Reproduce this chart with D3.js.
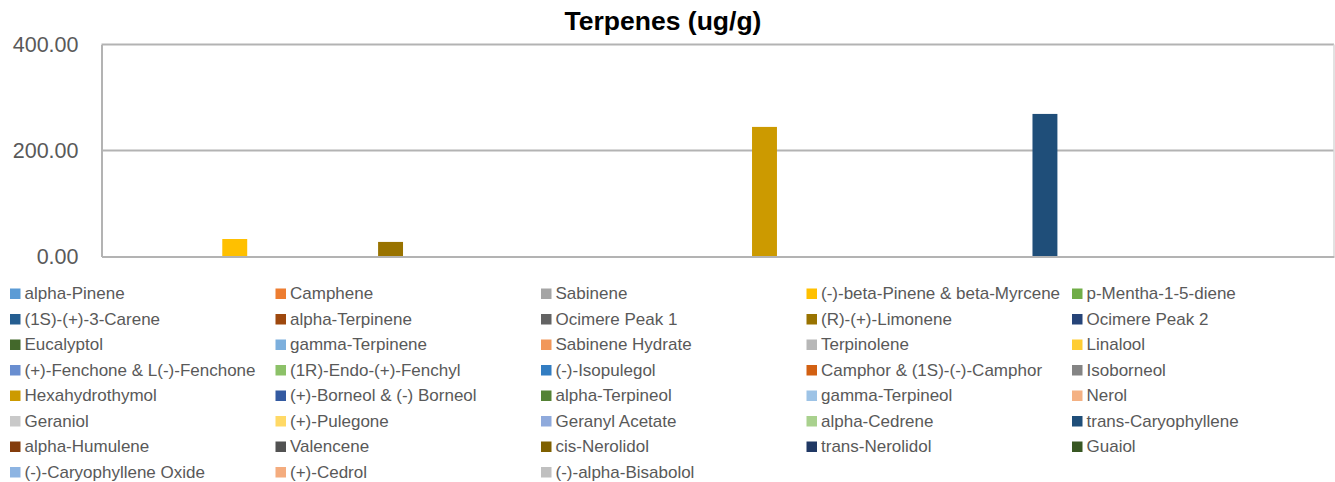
<!DOCTYPE html>
<html>
<head>
<meta charset="utf-8">
<script src="https://cdn.jsdelivr.net/npm/d3@7"></script>
<style>
  html, body { margin: 0; padding: 0; background: #ffffff; }
  svg { display: block; }
</style>
</head>
<body>
<svg id="chart" width="1335" height="482"></svg>
<script>
const title = "Terpenes (ug/g)";
const categories = ["Sample"];
const seriesNames = [
  "alpha-Pinene", "Camphene", "Sabinene", "(-)-beta-Pinene & beta-Myrcene", "p-Mentha-1-5-diene",
  "(1S)-(+)-3-Carene", "alpha-Terpinene", "Ocimere Peak 1", "(R)-(+)-Limonene", "Ocimere Peak 2",
  "Eucalyptol", "gamma-Terpinene", "Sabinene Hydrate", "Terpinolene", "Linalool",
  "(+)-Fenchone & L(-)-Fenchone", "(1R)-Endo-(+)-Fenchyl", "(-)-Isopulegol", "Camphor & (1S)-(-)-Camphor", "Isoborneol",
  "Hexahydrothymol", "(+)-Borneol & (-) Borneol", "alpha-Terpineol", "gamma-Terpineol", "Nerol",
  "Geraniol", "(+)-Pulegone", "Geranyl Acetate", "alpha-Cedrene", "trans-Caryophyllene",
  "alpha-Humulene", "Valencene", "cis-Nerolidol", "trans-Nerolidol", "Guaiol",
  "(-)-Caryophyllene Oxide", "(+)-Cedrol", "(-)-alpha-Bisabolol"
];
const seriesValues = [
  0, 0, 0, 33.0, 0,
  0, 0, 0, 27.5, 0,
  0, 0, 0, 0, 0,
  0, 0, 0, 0, 0,
  244.5, 0, 0, 0, 0,
  0, 0, 0, 0, 269.0,
  0, 0, 0, 0, 0,
  0, 0, 0
];
const seriesColors = [
  "#5B9BD5", "#ED7D31", "#A5A5A5", "#FFC000", "#70AD47",
  "#255E91", "#9E480E", "#636363", "#997300", "#264478",
  "#43682B", "#7CAFDD", "#F1975A", "#B7B7B7", "#FFCD33",
  "#698ED0", "#8CC168", "#327DC2", "#D26012", "#848484",
  "#CC9A00", "#335AA1", "#548235", "#9DC3E6", "#F4B183",
  "#C9C9C9", "#FFD966", "#8FAADC", "#A9D18E", "#1F4E79",
  "#843C0C", "#525252", "#7F6000", "#203864", "#385723",
  "#8DB4E2", "#F4AC7E", "#C0C0C0"
];
const yTicks = [0, 200, 400];

const svg = d3.select("#chart");
const plot = { left: 101.5, right: 1334, top: 44.5, bottom: 256.5 };

const y = d3.scaleLinear().domain([0, 400]).range([plot.bottom, plot.top]);
const x0 = d3.scaleBand().domain(categories).range([plot.left, plot.right]).padding(0);
const x1 = d3.scaleBand().domain(seriesNames).range([0, x0.bandwidth()])
  .paddingInner(0.2).paddingOuter(0.876);

// title
svg.append("text")
  .attr("x", 663).attr("y", 30)
  .attr("text-anchor", "middle")
  .attr("font-family", "'Liberation Sans', Arial, sans-serif")
  .attr("font-weight", "bold")
  .attr("font-size", "26.5px")
  .attr("fill", "#000")
  .text(title);

// gridlines
svg.append("g").selectAll("line").data(yTicks.filter(d => d > 0)).join("line")
  .attr("x1", plot.left).attr("x2", plot.right)
  .attr("y1", d => y(d)).attr("y2", d => y(d))
  .attr("stroke", "#b3b3b3").attr("stroke-width", 2);

// right plot border (light)
svg.append("line")
  .attr("x1", plot.right).attr("x2", plot.right)
  .attr("y1", plot.top).attr("y2", plot.bottom)
  .attr("stroke", "#d9d9d9").attr("stroke-width", 1.5);

// bars
const gCat = svg.append("g").selectAll("g").data(categories).join("g")
  .attr("transform", d => `translate(${x0(d)},0)`);
gCat.selectAll("rect")
  .data(seriesNames.map((n, i) => ({ name: n, value: seriesValues[i], color: seriesColors[i] })))
  .join("rect")
  .attr("x", d => x1(d.name))
  .attr("width", x1.bandwidth())
  .attr("y", d => y(d.value))
  .attr("height", d => y(0) - y(d.value))
  .attr("fill", d => d.color);

// y axis
const yAxis = d3.axisLeft(y).tickValues(yTicks).tickFormat(d3.format(".2f")).tickSize(0).tickPadding(23);
const gy = svg.append("g").attr("transform", `translate(${plot.left},0)`).call(yAxis);
gy.select(".domain").attr("stroke", "#b3b3b3").attr("stroke-width", 2);
gy.selectAll("text")
  .attr("font-family", "'Liberation Sans', Arial, sans-serif")
  .attr("font-size", "21.5px")
  .attr("fill", "#595959");

// x axis line
const xAxis = d3.axisBottom(x0).tickSize(0).tickFormat("");
const gx = svg.append("g").attr("transform", `translate(0,${plot.bottom})`).call(xAxis);
gx.select(".domain").attr("stroke", "#b3b3b3").attr("stroke-width", 2);

// legend
const legCols = 5, colStep = 265.5, rowStep = 25.5, legX = 10, legY = 288.5;
const leg = svg.append("g").selectAll("g").data(seriesNames).join("g")
  .attr("transform", (d, i) => `translate(${legX + (i % legCols) * colStep},${legY + Math.floor(i / legCols) * rowStep})`);
leg.append("rect").attr("width", 10.5).attr("height", 10.5)
  .attr("fill", (d, i) => seriesColors[i]);
leg.append("text").attr("x", 14.5).attr("y", 10.8)
  .attr("font-family", "'Liberation Sans', Arial, sans-serif")
  .attr("font-size", "17px")
  .attr("fill", "#595959")
  .text(d => d);
</script>
</body>
</html>
